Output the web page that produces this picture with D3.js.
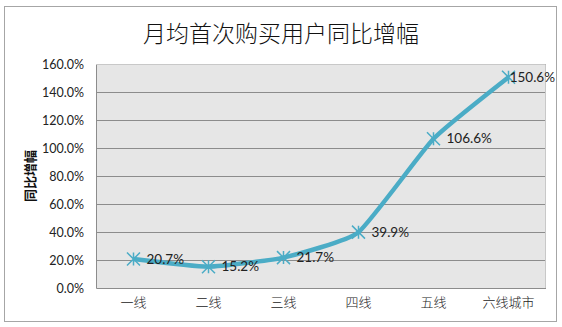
<!DOCTYPE html>
<html>
<head>
<meta charset="utf-8">
<script src="https://cdn.jsdelivr.net/npm/d3@7"></script>
<style>
  html, body { margin: 0; padding: 0; background: #fff; }
  svg { display: block; }
</style>
</head>
<body>
<div id="chart"></div>
<script>
// Monthly first-purchase users: year-over-year growth by city tier
const categories = ["一线", "二线", "三线", "四线", "五线", "六线城市"];
const growth = [20.7, 15.2, 21.7, 39.9, 106.6, 150.6];
const yTicks = [0, 20, 40, 60, 80, 100, 120, 140, 160];
const titleText = "月均首次购买用户同比增幅";
const yAxisTitle = "同比增幅";

const W = 562, H = 327;
const plot = { left: 96, right: 546, top: 64, bottom: 288 };
const frameRight = 556;

const svg = d3.select("#chart").append("svg")
  .attr("width", W).attr("height", H);

// outer chart frame
svg.append("rect")
  .attr("x", 4.5).attr("y", 6.5)
  .attr("width", frameRight - 4).attr("height", 315)
  .attr("fill", "#fff").attr("stroke", "#a6a6a6").attr("stroke-width", 1);

const x = d3.scaleBand().domain(categories).range([plot.left, plot.right]);
const y = d3.scaleLinear().domain([0, 160]).range([plot.bottom, plot.top]);

// plot background
svg.append("rect")
  .attr("x", plot.left).attr("y", plot.top)
  .attr("width", plot.right - plot.left).attr("height", plot.bottom - plot.top)
  .attr("fill", "#e6e6e6");

// horizontal gridlines
svg.append("g").selectAll("line").data(yTicks.filter(d => d > 0)).join("line")
  .attr("x1", plot.left).attr("x2", plot.right)
  .attr("y1", d => Math.round(y(d)) + 0.5).attr("y2", d => Math.round(y(d)) + 0.5)
  .attr("stroke", "#8c8c8c").attr("stroke-width", 1);

// plot border (left and bottom axis lines)
svg.append("path")
  .attr("d", `M${plot.left + 0.5},${plot.top} V${plot.bottom + 0.5} H${plot.right}`)
  .attr("fill", "none").attr("stroke", "#8c8c8c");
svg.append("path")
  .attr("d", `M${plot.left},${plot.top + 0.5} H${plot.right - 0.5} V${plot.bottom}`)
  .attr("fill", "none").attr("stroke", "#c8c8c8");

// y axis
const yAxis = d3.axisLeft(y).tickValues(yTicks)
  .tickFormat(d => d.toFixed(1) + "%").tickSize(0).tickPadding(12);
const gy = svg.append("g").attr("transform", `translate(${plot.left},0)`).call(yAxis);
gy.select(".domain").remove();
gy.selectAll("text")
  .attr("font-family", "Lato, 'Open Sans', sans-serif")
  .attr("font-size", 12.5).attr("fill", "#222");

// x axis
const xAxis = d3.axisBottom(x).tickSize(0).tickPadding(10);
const gx = svg.append("g").attr("transform", `translate(0,${plot.bottom})`).call(xAxis);
gx.select(".domain").remove();
gx.selectAll("text")
  .attr("font-family", "'Noto Sans CJK SC', sans-serif")
  .attr("font-size", 13).attr("font-weight", 300).attr("fill", "#222");

// title
svg.append("text")
  .attr("x", 281).attr("y", 42)
  .attr("text-anchor", "middle")
  .attr("font-family", "'Noto Sans CJK SC', sans-serif")
  .attr("font-size", 23).attr("font-weight", 300).attr("fill", "#111")
  .text(titleText);

// y axis title
svg.append("text")
  .attr("transform", "translate(35,176) rotate(-90)")
  .attr("text-anchor", "middle")
  .attr("font-family", "'Noto Sans CJK SC', sans-serif")
  .attr("font-size", 13).attr("font-weight", "bold").attr("fill", "#111")
  .text(yAxisTitle);

const color = "#4bacc6";
const pts = categories.map((c, i) => [x(c) + x.bandwidth() / 2, y(growth[i])]);

// smoothed series line
svg.append("path")
  .datum(pts)
  .attr("d", d3.line().curve(d3.curveCardinal.tension(0.55)))
  .attr("fill", "none").attr("stroke", color)
  .attr("stroke-width", 4.5).attr("stroke-linejoin", "round");

// star markers
const r = 6.5;
svg.append("g").selectAll("path").data(pts).join("path")
  .attr("d", ([px, py]) =>
    `M${px - r},${py - r}L${px + r},${py + r}M${px - r},${py + r}L${px + r},${py - r}M${px},${py - r}L${px},${py + r}`)
  .attr("stroke", color).attr("stroke-width", 1.5).attr("fill", "none");

// data labels, to the right of each point, kept inside the frame
svg.append("g").selectAll("text").data(pts).join("text")
  .attr("y", d => d[1])
  .attr("dy", "0.35em")
  .attr("font-family", "Lato, 'Open Sans', sans-serif")
  .attr("font-size", 13.5).attr("fill", "#222")
  .text((d, i) => growth[i].toFixed(1) + "%")
  .attr("x", function (d) {
    const w = this.getComputedTextLength();
    return Math.min(d[0] + 13, frameRight - 1 - w);
  });
</script>
</body>
</html>
